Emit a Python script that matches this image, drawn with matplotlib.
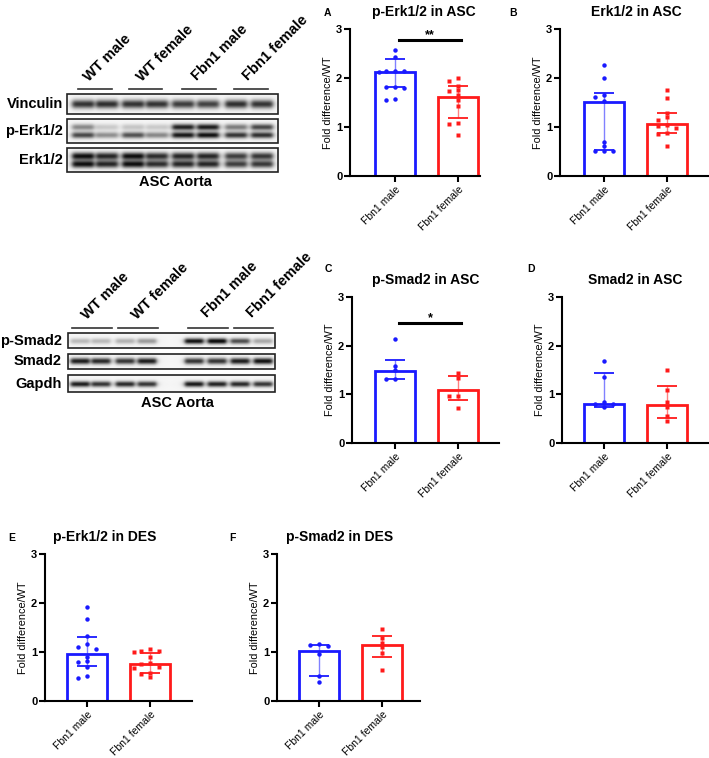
import numpy as np
import matplotlib
matplotlib.use("Agg")
import matplotlib.pyplot as plt
from matplotlib.patches import Rectangle

plt.rcParams['font.family'] = ['Liberation Sans', 'DejaVu Sans']

W, H = 709, 758
BLUE = "#1a1aff"
RED = "#ff1a1a"

groups = ["Fbn1 male", "Fbn1 female"]

# ── Quantification data (fold difference / WT) ─────────────
# A: p-Erk1/2 in ASC
a_male   = [2.58, 2.42, 2.15, 2.15, 2.14, 2.12, 1.82, 1.82, 1.80, 1.58, 1.55]
a_female = [2.01, 1.94, 1.84, 1.76, 1.74, 1.65, 1.55, 1.43, 1.09, 1.07, 0.83]
a_bar    = [2.12, 1.62]
a_lo     = [1.81, 1.18]
a_hi     = [2.39, 1.83]

# B: Erk1/2 in ASC
b_male   = [2.26, 2.00, 1.65, 1.62, 1.53, 0.70, 0.62, 0.52, 0.51, 0.51]
b_female = [1.76, 1.60, 1.28, 1.21, 1.15, 1.05, 1.02, 0.98, 0.88, 0.85, 0.62]
b_bar    = [1.52, 1.06]
b_lo     = [0.53, 0.87]
b_hi     = [1.69, 1.28]

# C: p-Smad2 in ASC
c_male   = [2.14, 1.58, 1.50, 1.32, 1.31]
c_female = [1.44, 1.34, 0.97, 0.96, 0.72]
c_bar    = [1.48, 1.09]
c_lo     = [1.31, 0.88]
c_hi     = [1.71, 1.37]

# D: Smad2 in ASC
d_male   = [1.69, 1.36, 0.84, 0.81, 0.80, 0.73]
d_female = [1.51, 1.08, 0.84, 0.75, 0.55, 0.45]
d_bar    = [0.81, 0.79]
d_lo     = [0.75, 0.51]
d_hi     = [1.44, 1.18]

# E: p-Erk1/2 in DES
e_male   = [1.91, 1.67, 1.32, 1.17, 1.10, 1.06, 0.90, 0.81, 0.79, 0.70, 0.51, 0.47]
e_female = [1.06, 1.02, 1.02, 1.01, 0.90, 0.78, 0.76, 0.70, 0.68, 0.57, 0.55, 0.48]
e_bar    = [0.95, 0.76]
e_lo     = [0.71, 0.58]
e_hi     = [1.30, 0.98]

# F: p-Smad2 in DES
f_male   = [1.17, 1.14, 1.12, 0.95, 0.52, 0.39]
f_female = [1.47, 1.28, 1.19, 1.10, 0.98, 0.63]
f_bar    = [1.02, 1.14]
f_lo     = [0.51, 0.90]
f_hi     = [1.15, 1.32]

# ── Blot band darkness (0 = none, 1 = black), 8 lanes ──────
lane_groups = ["WT male", "WT female", "Fbn1 male", "Fbn1 female"]
vinculin   = [0.80, 0.82, 0.80, 0.80, 0.76, 0.74, 0.82, 0.80]
perk_upper = [0.45, 0.18, 0.20, 0.18, 0.88, 0.90, 0.50, 0.72]
perk_lower = [0.72, 0.42, 0.68, 0.45, 0.92, 0.95, 0.80, 0.82]
erk_upper  = [0.95, 0.85, 0.95, 0.82, 0.85, 0.85, 0.75, 0.78]
erk_lower  = [0.95, 0.85, 0.95, 0.82, 0.85, 0.85, 0.75, 0.78]
psmad2     = [0.25, 0.25, 0.28, 0.38, 0.95, 1.00, 0.70, 0.32]
smad2      = [0.90, 0.85, 0.80, 0.90, 0.80, 0.80, 0.90, 0.95]
gapdh      = [0.90, 0.80, 0.85, 0.80, 0.92, 0.88, 0.85, 0.80]

fig = plt.figure(figsize=(W / 100, H / 100), dpi=100)
ov = fig.add_axes([0, 0, 1, 1])
ov.set_xlim(0, W)
ov.set_ylim(H, 0)
ov.axis("off")


def draw_blot(x0, x1, y0, y1, lanes, bands, halfw):
    s = 4
    ny, nx = int((y1 - y0) * s), int((x1 - x0) * s)
    yy, xx = np.mgrid[0:ny, 0:nx]
    yy = y0 + yy / s
    xx = x0 + xx / s
    img = np.full((ny, nx), 0.04)
    for yc, sig, dark in bands:
        for xc, d in zip(lanes, dark):
            hprof = 1 / (1 + ((xx - xc) / halfw) ** 8)
            img += d * np.exp(-0.5 * ((yy - yc) / sig) ** 2) * hprof
    ov.imshow(np.clip(img, 0, 1), cmap="gray_r", vmin=0, vmax=1.05,
              extent=[x0, x1, y1, y0], aspect="auto", interpolation="bilinear")
    ov.add_patch(Rectangle((x0, y0), x1 - x0, y1 - y0, fill=False,
                           lw=1.2, ec="#222222"))


# top blot (Erk)
lanes1 = [83, 107, 133, 157, 183, 208, 236, 262]
draw_blot(67, 278, 94, 114, lanes1, [(104, 3.0, vinculin)], 11)
draw_blot(67, 278, 119, 143, lanes1,
          [(127, 2.2, perk_upper), (135, 2.2, perk_lower)], 11)
draw_blot(67, 278, 148, 172, lanes1,
          [(156, 2.6, erk_upper), (164, 2.6, erk_lower)], 11)
for txt, y in [("Vinculin", 104), ("p-Erk1/2", 131), ("Erk1/2", 160)]:
    ov.text(63, y, txt, ha="right", va="center", fontsize=10.5, fontweight="bold")
ov.text(175, 182, "ASC Aorta", ha="center", va="center", fontsize=10.5,
        fontweight="bold")
for (xa, xb), (tx, ty), g in zip([(78, 112), (129, 162), (182, 216), (234, 268)],
                                 [(89, 82), (142, 82), (197, 81), (248, 81)],
                                 lane_groups):
    ov.plot([xa, xb], [89, 89], color="#333333", lw=1.2)
    ov.text(tx, ty, g, rotation=45, rotation_mode="anchor", ha="left",
            va="baseline", fontsize=10.5, fontweight="bold")

# bottom blot (Smad2)
lanes2 = [80, 101, 125, 147, 194, 217, 240, 263]
draw_blot(68, 275, 333, 348, lanes2, [(341, 2.0, psmad2)], 9.5)
draw_blot(68, 275, 354, 369, lanes2, [(361, 2.2, smad2)], 9.5)
draw_blot(68, 275, 375, 392, lanes2, [(384, 2.0, gapdh)], 9.5)
for txt, y in [("p-Smad2", 341), ("Smad2", 361), ("Gapdh", 384)]:
    ov.text(62, y, txt, ha="right", va="center", fontsize=10.5, fontweight="bold")
ov.text(177, 403, "ASC Aorta", ha="center", va="center", fontsize=10.5,
        fontweight="bold")
for (xa, xb), (tx, ty), g in zip([(72, 112), (118, 158), (188, 228), (234, 273)],
                                 [(87, 320), (137, 320), (207, 318), (252, 318)],
                                 lane_groups):
    ov.plot([xa, xb], [328, 328], color="#333333", lw=1.2)
    ov.text(tx, ty, g, rotation=45, rotation_mode="anchor", ha="left",
            va="baseline", fontsize=10.5, fontweight="bold")


def spread(vals):
    # GraphPad-like horizontal spread for close values
    pattern = [0, -0.14, 0.14, -0.25, 0.25]
    order = np.argsort(vals)[::-1]
    offs = np.zeros(len(vals))
    prev, slot = None, 0
    for i in order:
        if prev is not None and abs(vals[i] - prev) < 0.07:
            slot += 1
        else:
            slot = 0
        offs[i] = pattern[slot % len(pattern)]
        prev = vals[i]
    return offs


def bar_panel(x_spine, y_top, y_bot, x_end, c0, male, female, bars, lo, hi,
              title, title_x, sig=None):
    pitch = 63.0
    ax = fig.add_axes([x_spine / W, 1 - y_bot / H, (x_end - x_spine) / W,
                       (y_bot - y_top) / H])
    ax.set_xlim((x_spine - c0) / pitch, (x_end - c0) / pitch)
    ax.set_ylim(0, 3)
    ax.patch.set_alpha(0)
    for i, (pts, col, mk) in enumerate([(male, BLUE, "o"), (female, RED, "s")]):
        ax.bar(i, bars[i], width=0.65, facecolor="white", edgecolor=col,
               lw=2, zorder=2)
        ax.vlines(i, lo[i], hi[i], color=col, lw=1, alpha=0.55, zorder=3)
        ax.hlines([lo[i], hi[i]], i - 0.16, i + 0.16, color=col, lw=1.3, zorder=3)
        ax.plot(i + spread(pts), pts, ls="none", marker=mk, ms=3.2, color=col,
                mec="none", zorder=4, clip_on=False)
    if sig is not None:
        yl, stars = sig
        ax.plot([0.07, 1.05], [yl, yl], color="black", lw=2.2, clip_on=False)
        ax.text(0.56, yl + 0.1, stars, ha="center", va="center", fontsize=9,
                fontweight="bold")
    for s in ["top", "right"]:
        ax.spines[s].set_visible(False)
    for s in ["left", "bottom"]:
        ax.spines[s].set_linewidth(1.5)
    ax.set_yticks([0, 1, 2, 3])
    ax.set_xticks([0, 1])
    ax.set_xticklabels(groups, rotation=45, ha="right", rotation_mode="anchor",
                       fontsize=7.5)
    ax.tick_params(axis="both", length=4, width=1.5)
    ax.tick_params(axis="x", pad=2)
    ax.tick_params(axis="y", pad=1.5)
    for t in ax.get_yticklabels():
        t.set_fontweight("bold")
        t.set_fontsize(8)
    ax.set_ylabel("Fold difference/WT", fontsize=7.8, labelpad=2.5)
    ty = y_top - 17
    fig.text(title_x / W, 1 - ty / H, title, ha="center", va="center",
             fontsize=10, fontweight="bold")
    return ax


bar_panel(350, 29, 176, 480, 395, a_male, a_female, a_bar, a_lo, a_hi,
          "p-Erk1/2 in ASC", 424, sig=(2.77, "**"))
bar_panel(560, 29, 176, 708, 604, b_male, b_female, b_bar, b_lo, b_hi,
          "Erk1/2 in ASC", 636)
bar_panel(352, 297, 443, 499, 395, c_male, c_female, c_bar, c_lo, c_hi,
          "p-Smad2 in ASC", 426, sig=(2.47, "*"))
bar_panel(562, 297, 443, 709, 604, d_male, d_female, d_bar, d_lo, d_hi,
          "Smad2 in ASC", 635)
bar_panel(45, 554, 701, 192, 87, e_male, e_female, e_bar, e_lo, e_hi,
          "p-Erk1/2 in DES", 105)
bar_panel(277, 554, 701, 420, 319, f_male, f_female, f_bar, f_lo, f_hi,
          "p-Smad2 in DES", 340)

for letter, x, y in [("A", 327, 13), ("B", 513, 13), ("C", 328, 269),
                     ("D", 531, 269), ("E", 12, 538), ("F", 232, 538)]:
    ov.text(x, y, letter, ha="center", va="center", fontsize=7.5,
            fontweight="bold")

fig.savefig("out.png", dpi=100)
